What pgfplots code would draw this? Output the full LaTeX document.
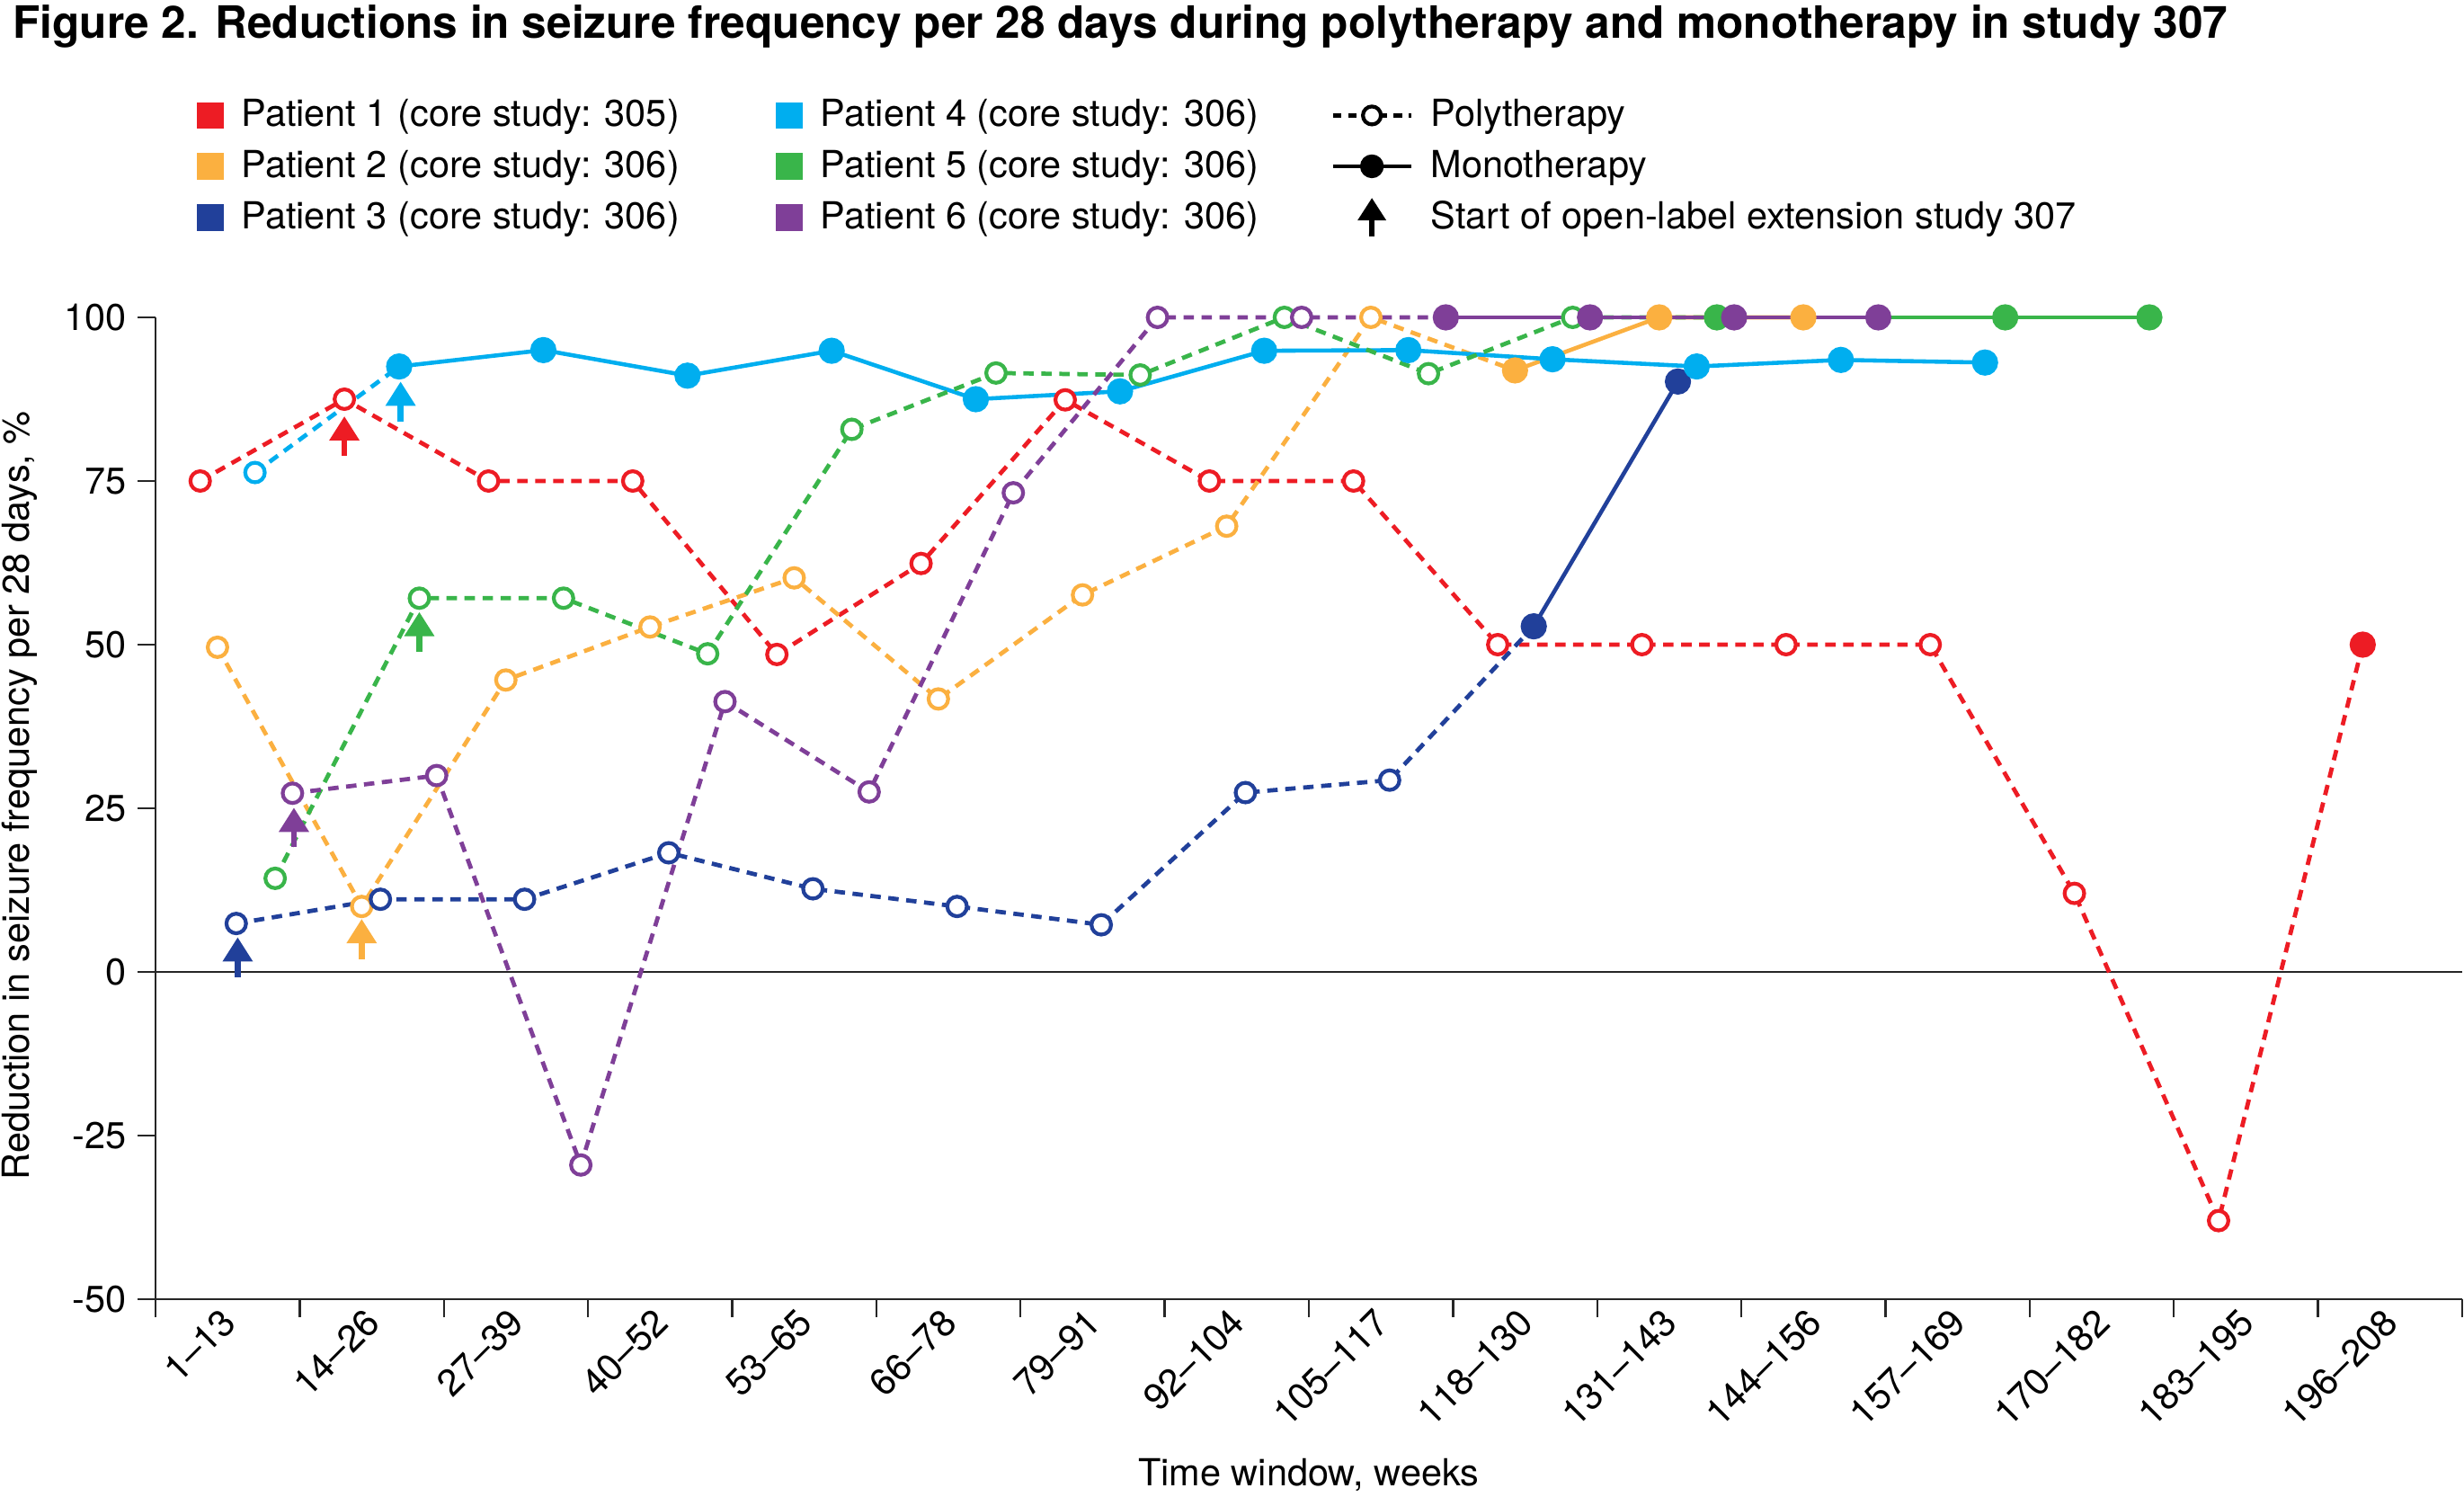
\documentclass[border=0pt]{standalone}
\usepackage{fontspec}
\setmainfont{TeX Gyre Heros}
\usepackage{pgfplots}
\pgfplotsset{compat=1.18}
\usetikzlibrary{arrows.meta}

\definecolor{pA}{HTML}{ED1C24}
\definecolor{pB}{HTML}{FBB040}
\definecolor{pC}{HTML}{21409A}
\definecolor{pD}{HTML}{00AEEF}
\definecolor{pE}{HTML}{39B54A}
\definecolor{pF}{HTML}{7F3F98}

\newcommand{\txt}{\fontsize{11.8}{14}\selectfont}

\pgfplotsset{
  poly/.style={line width=1.35pt, dash pattern=on 3.3pt off 2.4pt, mark=*, mark size=3.1pt,
    mark options={solid, fill=white, line width=1.2pt}, forget plot},
  mono/.style={line width=1.3pt, solid, mark=*, mark size=3.5pt, forget plot},
  start/.style={line width=0.065cm, mark=none, -{Triangle[width=0.32cm,length=0.27cm]}, forget plot},
}

\begin{document}
\begin{tikzpicture}
\useasboundingbox (0,0) rectangle (27.41,16.65);

\node[anchor=base west, font=\bfseries\fontsize{14.1}{17}\selectfont] at (0.02,16.22)
  {Figure 2. Reductions in seizure frequency per 28 days during polytherapy and monotherapy in study 307};

\begin{axis}[
  at={(1.73cm,2.20cm)}, anchor=south west,
  scale only axis,
  width=25.66cm, height=10.92cm,
  xmin=0, xmax=16, ymin=-50, ymax=100,
  clip=false,
  axis lines*=left,
  axis line style={black!85, line width=0.8pt},
  tick align=outside,
  major tick length=0.2cm,
  tick style={black!85, line width=0.7pt},
  xtick={0,...,16},
  x tick label as interval,
  xticklabels={1–13,14–26,27–39,40–52,53–65,66–78,79–91,92–104,105–117,118–130,131–143,144–156,157–169,170–182,183–195,196–208},
  xticklabel style={rotate=45, anchor=east, xshift=0.14cm, font=\txt},
  ytick={-50,-25,0,25,50,75,100},
  yticklabels={-50,-25,0,25,50,75,100},
  yticklabel style={font=\txt},
  xlabel={Time window, weeks},
  ylabel={Reduction in seizure frequency per 28 days, \%},
  every axis x label/.style={at={(axis description cs:0.5,-0.1786)}, anchor=center, font=\txt},
  every axis y label/.style={at={(axis description cs:-0.059,0.513)}, anchor=center, rotate=90, font=\txt},
  legend columns=3,
  transpose legend,
  legend cell align=left,
  legend style={at={(axis description cs:0.0175,1.229)}, anchor=north west,
    draw=none, fill=none, inner sep=0pt, font=\txt, row sep=0.07cm,
    /tikz/every odd column/.append style={column sep=0.125cm},
    /tikz/column 2/.style={column sep=1.0cm},
    /tikz/column 4/.style={column sep=0.73cm}},
]

% zero line
\addplot[black!85, line width=0.6pt, mark=none, forget plot] coordinates {(0,0) (16,0)};

% Patient 1
\addplot[pA, poly, mark indices={1,...,15}] coordinates {
  (0.31,75) (1.31,87.5) (2.31,75) (3.31,75) (4.31,48.5) (5.31,62.4) (6.31,87.4) (7.31,75)
  (8.31,75) (9.31,50) (10.31,50) (11.31,50) (12.31,50) (13.31,12) (14.31,-38) (15.31,50)};
\addplot[pA, mono, only marks] coordinates {(15.31,50)};

% Patient 2
\addplot[pB, poly, mark indices={1,...,9}] coordinates {
  (0.43,49.6) (1.43,10) (2.43,44.6) (3.43,52.7) (4.43,60.2) (5.43,41.7) (6.43,57.6)
  (7.43,68.1) (8.43,100) (9.43,91.9)};
\addplot[pB, mono] coordinates {(9.43,91.9) (10.43,100) (11.43,100)};

% Patient 3
\addplot[pC, poly, mark indices={1,...,9}] coordinates {
  (0.56,7.4) (1.56,11.1) (2.56,11.1) (3.56,18.2) (4.56,12.7) (5.56,10.0) (6.56,7.2)
  (7.56,27.4) (8.56,29.3) (9.56,52.8)};
\addplot[pC, mono] coordinates {(9.56,52.8) (10.56,90.2)};

% Patient 4
\addplot[pD, poly, mark indices={1}] coordinates {(0.69,76.3) (1.69,92.5)};
\addplot[pD, mono] coordinates {
  (1.69,92.5) (2.69,95) (3.69,91.1) (4.69,94.9) (5.69,87.5) (6.69,88.7) (7.69,94.9)
  (8.69,95) (9.69,93.6) (10.69,92.5) (11.69,93.5) (12.69,93.1)};

% Patient 5
\addplot[pE, poly, mark indices={1,...,10}] coordinates {
  (0.83,14.3) (1.83,57.1) (2.83,57.1) (3.83,48.6) (4.83,82.9) (5.83,91.5) (6.83,91.2)
  (7.83,100) (8.83,91.4) (9.83,100) (10.83,100)};
\addplot[pE, mono] coordinates {(10.83,100) (12.83,100) (13.83,100)};

% Patient 6
\addplot[pF, poly, mark indices={1,...,8}] coordinates {
  (0.95,27.3) (1.95,30) (2.95,-29.5) (3.95,41.3) (4.95,27.5) (5.95,73.2) (6.95,100)
  (7.95,100) (8.95,100)};
\addplot[pF, mono] coordinates {(8.95,100) (9.95,100) (10.95,100) (11.95,100)};

% start of open-label extension study 307
\addplot[pA, start] coordinates {(1.31,78.8) (1.31,84.9)};
\addplot[pB, start] coordinates {(1.43,1.9) (1.43,8.1)};
\addplot[pC, start] coordinates {(0.57,-0.8) (0.57,5.3)};
\addplot[pD, start] coordinates {(1.70,84.1) (1.70,90.2)};
\addplot[pE, start] coordinates {(1.83,48.9) (1.83,55.0)};
\addplot[pF, start] coordinates {(0.96,19.1) (0.96,25.1)};

% legend
\addlegendimage{legend image code/.code={\fill[pA] (0cm,-0.14cm) rectangle (0.29cm,0.14cm);}}
\addlegendentry{Patient 1 (core study: 305)}
\addlegendimage{legend image code/.code={\fill[pB] (0cm,-0.14cm) rectangle (0.29cm,0.14cm);}}
\addlegendentry{Patient 2 (core study: 306)}
\addlegendimage{legend image code/.code={\fill[pC] (0cm,-0.14cm) rectangle (0.29cm,0.14cm);}}
\addlegendentry{Patient 3 (core study: 306)}
\addlegendimage{legend image code/.code={\fill[pD] (0cm,-0.14cm) rectangle (0.29cm,0.14cm);}}
\addlegendentry{Patient 4 (core study: 306)}
\addlegendimage{legend image code/.code={\fill[pE] (0cm,-0.14cm) rectangle (0.29cm,0.14cm);}}
\addlegendentry{Patient 5 (core study: 306)}
\addlegendimage{legend image code/.code={\fill[pF] (0cm,-0.14cm) rectangle (0.29cm,0.14cm);}}
\addlegendentry{Patient 6 (core study: 306)}
\addlegendimage{legend image code/.code={
  \draw[black, line width=1.2pt, dash pattern=on 2.8pt off 2pt] (0cm,0cm) -- (0.87cm,0cm);
  \draw[black, line width=1.2pt, fill=white] (0.435cm,0cm) circle (0.1cm);}}
\addlegendentry{Polytherapy}
\addlegendimage{legend image code/.code={
  \draw[black, line width=1.4pt] (0cm,0cm) -- (0.87cm,0cm);
  \fill[black] (0.435cm,0cm) circle (0.125cm);}}
\addlegendentry{Monotherapy}
\addlegendimage{legend image code/.code={
  \draw[black, line width=0.065cm, -{Triangle[width=0.3cm,length=0.25cm]}] (0.435cm,-0.21cm) -- (0.435cm,0.22cm);}}
\addlegendentry{Start of open-label extension study 307}

\end{axis}
\end{tikzpicture}
\end{document}
